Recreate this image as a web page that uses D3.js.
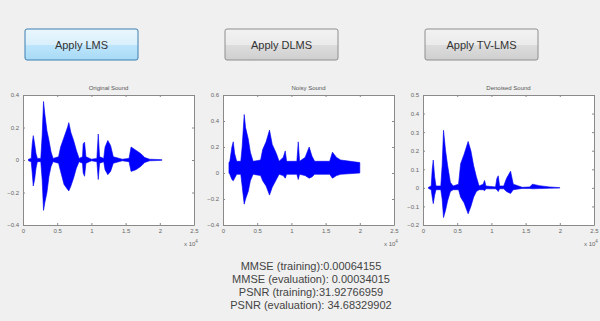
<!DOCTYPE html>
<html>
<head>
<meta charset="utf-8">
<script src="https://cdn.jsdelivr.net/npm/d3@7"></script>
<style>
  body { margin: 0; background: #f0f0f0; }
  svg { display: block; font-family: "Liberation Sans", Arial, sans-serif; }
</style>
</head>
<body>
<svg id="chart" width="600" height="321"></svg>
<script>
// buttons along the top
const buttonLabels = ['Apply LMS', 'Apply DLMS', 'Apply TV-LMS'];

// panel titles and y ranges
const panelTitles = ['Original Sound', 'Noisy Sound', 'Denoised Sound'];
const yDomains = [[-0.4, 0.4], [-0.4, 0.6], [-0.2, 0.5]];
const yTicks = [[-0.4, -0.2, 0, 0.2, 0.4], [-0.4, -0.2, 0, 0.2, 0.4, 0.6], [-0.2, -0.1, 0, 0.1, 0.2, 0.3, 0.4, 0.5]];
const xTicks = [0, 0.5, 1, 1.5, 2, 2.5];

// waveform envelopes: [sample (x10^4), upper, lower]
const originalEnv = [
  [0.08, 0.005, -0.005], [0.12, 0.01, -0.01], [0.135, 0.10, -0.08], [0.15, 0.15, -0.16],
  [0.17, 0.10, -0.12], [0.19, 0.04, -0.05], [0.21, 0.01, -0.01], [0.26, 0.01, -0.01],
  [0.28, 0.15, -0.12], [0.30, 0.36, -0.31], [0.32, 0.28, -0.26], [0.35, 0.18, -0.20],
  [0.38, 0.12, -0.10], [0.41, 0.05, -0.04], [0.44, 0.01, -0.01], [0.52, 0.02, -0.02],
  [0.55, 0.08, -0.07], [0.60, 0.14, -0.15], [0.65, 0.20, -0.18], [0.67, 0.23, -0.19],
  [0.70, 0.17, -0.16], [0.74, 0.12, -0.11], [0.78, 0.06, -0.05], [0.82, 0.01, -0.01],
  [0.87, 0.02, -0.02], [0.88, 0.10, -0.08], [0.90, 0.11, -0.10], [0.92, 0.02, -0.02],
  [1.00, 0.005, -0.005], [1.08, 0.01, -0.01], [1.10, 0.16, -0.12], [1.12, 0.02, -0.02],
  [1.18, 0.01, -0.01], [1.20, 0.08, -0.06], [1.24, 0.12, -0.09], [1.28, 0.09, -0.07],
  [1.32, 0.02, -0.02], [1.45, 0.005, -0.005], [1.55, 0.01, -0.01], [1.58, 0.08, -0.07],
  [1.65, 0.06, -0.06], [1.72, 0.04, -0.04], [1.78, 0.015, -0.015], [1.85, 0.005, -0.005],
  [2.03, 0.002, -0.002]
];
const noisyEnv = [
  [0.087, 0.08, 0.00], [0.10, 0.09, -0.01], [0.13, 0.20, -0.05], [0.15, 0.24, -0.06],
  [0.17, 0.15, -0.04], [0.20, 0.09, -0.01], [0.26, 0.09, -0.01], [0.28, 0.20, -0.10],
  [0.31, 0.45, -0.24], [0.33, 0.35, -0.20], [0.37, 0.26, -0.14], [0.40, 0.16, -0.06],
  [0.44, 0.09, -0.01], [0.55, 0.10, -0.02], [0.58, 0.18, -0.06], [0.63, 0.24, -0.10],
  [0.68, 0.33, -0.17], [0.72, 0.22, -0.11], [0.78, 0.15, -0.05], [0.82, 0.09, -0.01],
  [0.88, 0.12, -0.02], [0.91, 0.17, -0.04], [0.93, 0.09, -0.01], [1.08, 0.09, -0.01],
  [1.10, 0.24, -0.05], [1.12, 0.09, -0.01], [1.20, 0.12, -0.02], [1.26, 0.20, -0.04],
  [1.30, 0.13, -0.03], [1.34, 0.09, -0.01], [1.56, 0.09, -0.01], [1.60, 0.16, -0.04],
  [1.66, 0.12, -0.02], [1.72, 0.10, -0.01], [2.00, 0.08, 0.00]
];
const denoisedEnv = [
  [0.08, 0.003, -0.003], [0.12, 0.01, -0.01], [0.135, 0.10, -0.05], [0.15, 0.15, -0.085],
  [0.17, 0.06, -0.04], [0.19, 0.01, -0.01], [0.26, 0.01, -0.01], [0.28, 0.12, -0.06],
  [0.30, 0.31, -0.16], [0.33, 0.20, -0.12], [0.36, 0.12, -0.07], [0.40, 0.03, -0.02],
  [0.44, 0.01, -0.01], [0.52, 0.02, -0.01], [0.55, 0.13, -0.05], [0.60, 0.18, -0.08],
  [0.66, 0.25, -0.14], [0.70, 0.20, -0.10], [0.74, 0.12, -0.05], [0.78, 0.06, -0.02],
  [0.82, 0.01, -0.01], [0.88, 0.02, -0.01], [0.90, 0.04, -0.015], [0.92, 0.01, -0.005],
  [1.06, 0.005, -0.005], [1.08, 0.05, -0.01], [1.10, 0.065, -0.02], [1.12, 0.01, -0.005],
  [1.18, 0.01, -0.005], [1.22, 0.05, -0.02], [1.28, 0.09, -0.03], [1.32, 0.02, -0.01],
  [1.45, 0.003, -0.003], [1.56, 0.005, -0.003], [1.60, 0.02, -0.005], [1.70, 0.012, -0.004],
  [1.85, 0.005, -0.002], [2.00, 0.001, -0.001]
];
const envelopes = [originalEnv, noisyEnv, denoisedEnv];

// error figures printed under the panels
const resultLines = [
  'MMSE (training):0.00064155',
  'MMSE (evaluation): 0.00034015',
  'PSNR (training):31.92766959',
  'PSNR (evaluation): 34.68329902'
];

const svg = d3.select('#chart');

const defs = svg.append('defs');
const blueGrad = defs.append('linearGradient').attr('id', 'btnBlue').attr('x1', 0).attr('y1', 0).attr('x2', 0).attr('y2', 1);
blueGrad.append('stop').attr('offset', '0%').attr('stop-color', '#eaf6fd');
blueGrad.append('stop').attr('offset', '50%').attr('stop-color', '#d9f0fc');
blueGrad.append('stop').attr('offset', '51%').attr('stop-color', '#bee6fd');
blueGrad.append('stop').attr('offset', '100%').attr('stop-color', '#a7d9f5');
const grayGrad = defs.append('linearGradient').attr('id', 'btnGray').attr('x1', 0).attr('y1', 0).attr('x2', 0).attr('y2', 1);
grayGrad.append('stop').attr('offset', '0%').attr('stop-color', '#f2f2f2');
grayGrad.append('stop').attr('offset', '50%').attr('stop-color', '#ebebeb');
grayGrad.append('stop').attr('offset', '51%').attr('stop-color', '#dddddd');
grayGrad.append('stop').attr('offset', '100%').attr('stop-color', '#cfcfcf');

// buttons
const btn = svg.append('g').selectAll('g')
  .data(buttonLabels)
  .enter()
  .append('g')
  .attr('transform', (d, i) => `translate(${25 + i * 200},29)`);

btn.append('rect')
  .attr('width', 113)
  .attr('height', 31)
  .attr('rx', 2)
  .attr('fill', (d, i) => i === 0 ? 'url(#btnBlue)' : 'url(#btnGray)')
  .attr('stroke', (d, i) => i === 0 ? '#3c7fb1' : '#8e8e8e')
  .attr('stroke-width', 1);

btn.append('text')
  .attr('x', 56.5)
  .attr('y', 20)
  .attr('text-anchor', 'middle')
  .attr('font-size', 11)
  .attr('fill', '#333')
  .text(d => d);

// panels
const pw = 171, ph = 130, panelTop = 95;

panelTitles.forEach((title, i) => {
  const left = 23 + i * 200;
  const g = svg.append('g').attr('transform', `translate(${left},${panelTop})`);

  const x = d3.scaleLinear().domain([0, 2.5]).range([0, pw]);
  const y = d3.scaleLinear().domain(yDomains[i]).range([ph, 0]);

  g.append('rect')
    .attr('width', pw)
    .attr('height', ph)
    .attr('fill', '#fff');

  const area = d3.area()
    .x(d => x(d[0]))
    .y0(d => y(d[2]))
    .y1(d => y(d[1]));

  g.append('path')
    .datum(envelopes[i])
    .attr('d', area)
    .attr('fill', '#0000ff')
    .attr('stroke', '#0000ee')
    .attr('stroke-width', 0.6);

  // matlab style: ticks inside, on all four sides
  const bottom = g.append('g').attr('transform', `translate(0,${ph})`)
    .call(d3.axisBottom(x).tickValues(xTicks).tickSizeInner(-2).tickSizeOuter(0).tickPadding(4).tickFormat(d3.format('')));
  const topAx = g.append('g')
    .call(d3.axisTop(x).tickValues(xTicks).tickSizeInner(-2).tickSizeOuter(0).tickFormat(''));
  const leftAx = g.append('g')
    .call(d3.axisLeft(y).tickValues(yTicks[i]).tickSizeInner(-2).tickSizeOuter(0).tickPadding(4).tickFormat(d3.format('')));
  const rightAx = g.append('g').attr('transform', `translate(${pw},0)`)
    .call(d3.axisRight(y).tickValues(yTicks[i]).tickSizeInner(-2).tickSizeOuter(0).tickFormat(''));

  [bottom, topAx, leftAx, rightAx].forEach(ax => {
    ax.select('.domain').attr('stroke', '#8a8a8a');
    ax.selectAll('.tick line').attr('stroke', '#8a8a8a');
    ax.selectAll('.tick text').attr('fill', '#666').attr('font-size', 6);
  });

  g.append('text')
    .attr('x', pw / 2)
    .attr('y', -5)
    .attr('text-anchor', 'middle')
    .attr('font-size', 6)
    .attr('fill', '#555')
    .text(title);

  const sci = g.append('text')
    .attr('x', pw - 10)
    .attr('y', ph + 21)
    .attr('font-size', 6)
    .attr('fill', '#666');
  sci.append('tspan').text('x 10');
  sci.append('tspan').attr('dy', -3).attr('font-size', 4.5).text('4');
});

// results text
svg.append('g').selectAll('text')
  .data(resultLines)
  .enter()
  .append('text')
  .attr('x', 311)
  .attr('y', (d, i) => 270 + i * 13)
  .attr('text-anchor', 'middle')
  .attr('font-size', 11)
  .attr('fill', '#444')
  .text(d => d);
</script>
</body>
</html>
